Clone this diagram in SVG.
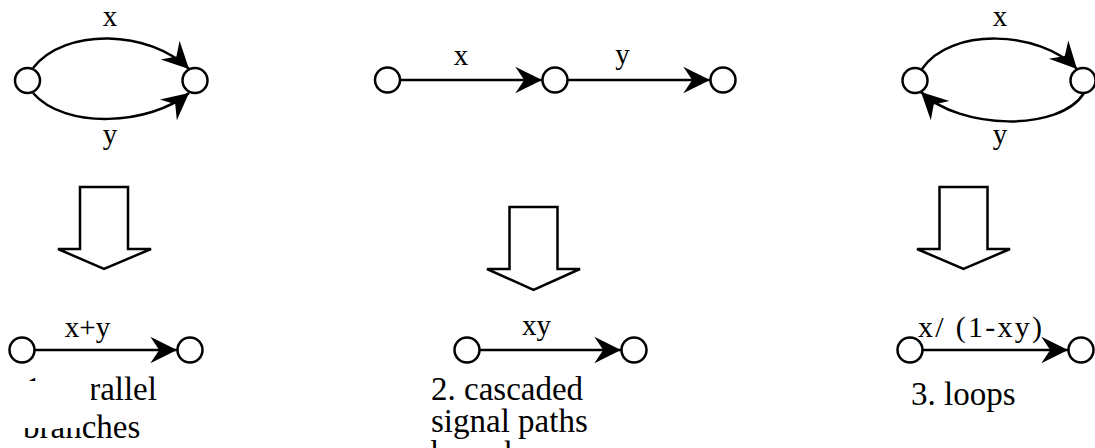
<svg xmlns="http://www.w3.org/2000/svg" width="1095" height="448" viewBox="0 0 1095 448">
<style>
.node{fill:#fff;stroke:#000;stroke-width:2.5}
.edge{fill:none;stroke:#000;stroke-width:2.5;marker-end:url(#ah)}
.block{fill:#fff;stroke:#000;stroke-width:2.5;stroke-linejoin:miter}
.lbl{font-family:"Liberation Serif","Times New Roman",serif;font-size:29px;fill:#000;text-anchor:middle}
.desc{font-family:"Liberation Serif","Times New Roman",serif;font-size:33px;fill:#000}
</style>
<defs>
<marker id="ah" markerUnits="userSpaceOnUse" markerWidth="30" markerHeight="30" viewBox="-25 -13 27 26" refX="0" refY="0" orient="auto">
<path d="M0,0 L-24,-12 L-16,0 L-24,12 Z" fill="#000"/>
</marker>
</defs>
<g id="connectors">
<path class="edge" d="M33,68 C65,27 150,30 189,69"/>
<path class="edge" d="M33,93 C65,130 150,125 189,93"/>
<path class="edge" d="M400,80 L542,80"/>
<path class="edge" d="M567.5,80 L710,80"/>
<path class="edge" d="M922,69 C950,27 1040,30 1077,69"/>
<path class="edge" d="M1084,93 C1060,132 960,130 921,92"/>
<path class="edge" d="M34.5,350 L177,350"/>
<path class="edge" d="M479.5,350 L621,350"/>
<path class="edge" d="M922.5,350 L1068,350"/>
</g>
<g id="p1-top-a"><circle class="node" cx="27.5" cy="80.5" r="12.5"/></g>
<g id="p1-top-b"><circle class="node" cx="195" cy="80.5" r="12.5"/></g>
<g id="p1-labels">
<text class="lbl" x="110" y="26">x</text>
<text class="lbl" x="110" y="144">y</text>
</g>
<g id="p2-top-a"><circle class="node" cx="387.5" cy="80" r="12.5"/></g>
<g id="p2-top-b"><circle class="node" cx="555" cy="80" r="12.5"/></g>
<g id="p2-top-c"><circle class="node" cx="723" cy="80" r="12.5"/></g>
<g id="p2-labels">
<text class="lbl" x="461" y="65">x</text>
<text class="lbl" x="622.5" y="64">y</text>
</g>
<g id="p3-top-a"><circle class="node" cx="915" cy="80.5" r="12.5"/></g>
<g id="p3-top-b"><circle class="node" cx="1083" cy="80.5" r="12.5"/></g>
<g id="p3-labels">
<text class="lbl" x="1000" y="26">x</text>
<text class="lbl" x="1000" y="144">y</text>
</g>
<g id="block-arrow-1"><path class="block" d="M80,187 L128,187 L128,249 L151,249 L104,269 L58,249 L80,249 Z"/></g>
<g id="block-arrow-2"><path class="block" d="M509.5,207 L557.5,207 L557.5,269 L580,269 L533.5,290 L487,269 L509.5,269 Z"/></g>
<g id="block-arrow-3"><path class="block" d="M939.5,187 L987.5,187 L987.5,249 L1010,249 L963.5,269 L917,249 L939.5,249 Z"/></g>
<g id="p1-bot-a"><circle class="node" cx="22" cy="350" r="12.5"/></g>
<g id="p1-bot-b"><circle class="node" cx="190" cy="350" r="12.5"/></g>
<text class="lbl" x="87.5" y="337">x+y</text>
<g id="p2-bot-a"><circle class="node" cx="467" cy="350" r="12.5"/></g>
<g id="p2-bot-b"><circle class="node" cx="634" cy="350" r="12.5"/></g>
<text class="lbl" x="536.5" y="335">xy</text>
<g id="p3-bot-a"><circle class="node" cx="910" cy="350" r="12.5"/></g>
<g id="p3-bot-b"><circle class="node" cx="1081" cy="350" r="12.5"/></g>
<text class="lbl" x="918" y="337" style="text-anchor:start;font-size:30px" textLength="124" lengthAdjust="spacing">x/ (1-xy)</text>
<g id="captions">
<text class="desc" x="25" y="400">1. parallel</text>
<text class="desc" x="23" y="438">branches</text>
<path d="M0,381 L91,381 L91,412 L81,412 L81,428 L0,428 Z" fill="#fff"/>
<text class="desc" x="431" y="400">2. cascaded</text>
<text class="desc" x="431" y="432">signal paths</text>
<text class="desc" x="431" y="464">branches</text>
<text class="desc" x="911" y="405">3. loops</text>
</g>
</svg>
